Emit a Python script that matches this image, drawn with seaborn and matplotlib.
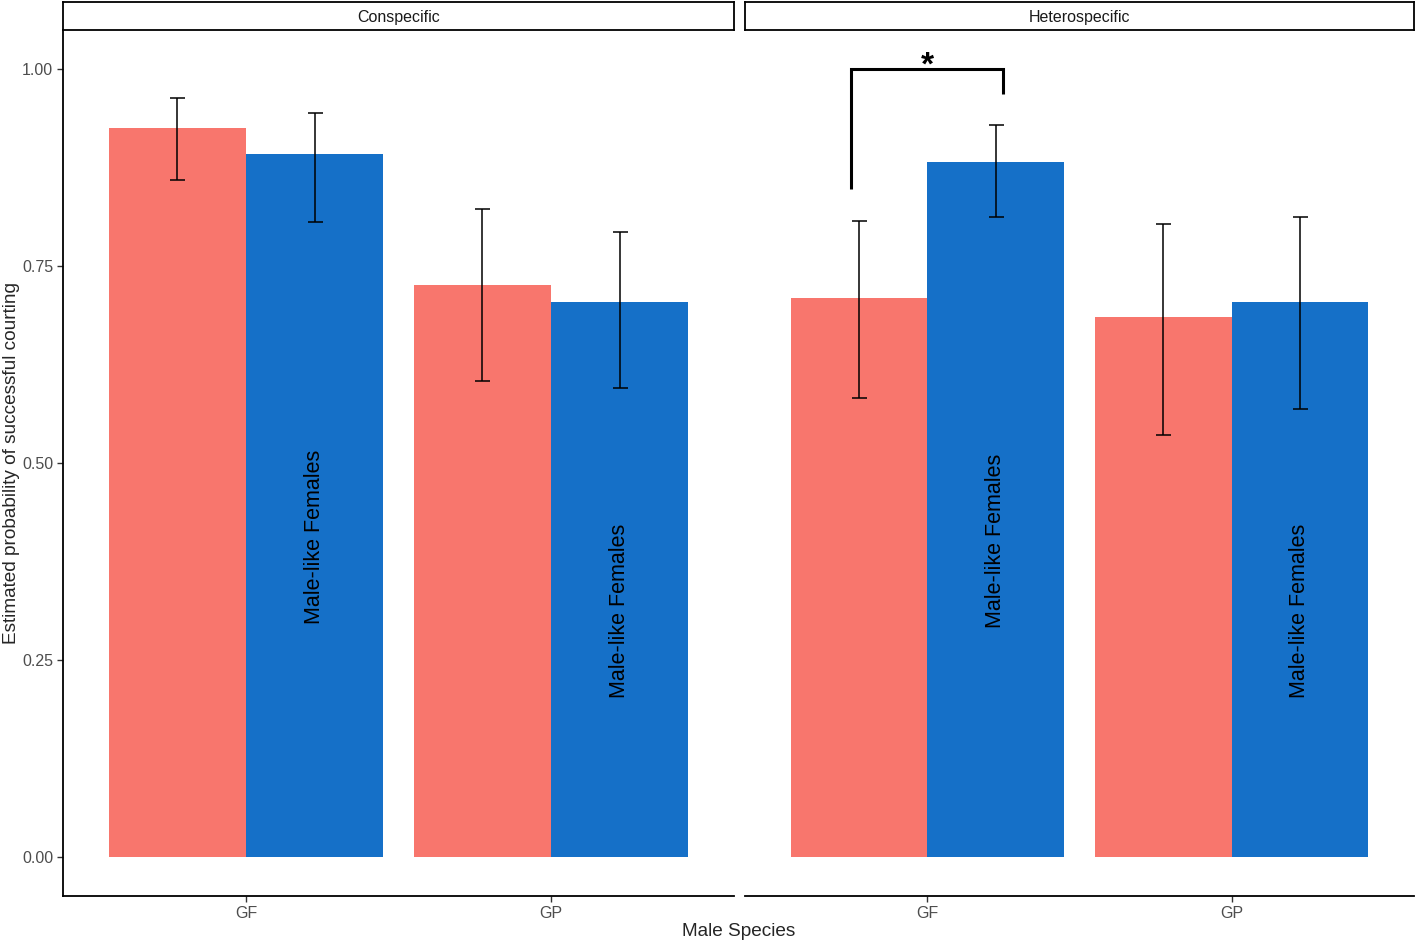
import numpy as np
import pandas as pd
import seaborn as sns
import matplotlib.pyplot as plt
from matplotlib.ticker import FormatStrFormatter

# values
species = ["GF", "GP"]
comparisons = ["Conspecific", "Heterospecific"]
female_types = ["Females", "Male-like Females"]

# estimated probability, lower and upper CI, per comparison -> female type -> species
con_fem = [0.926, 0.726]
con_fem_lo = [0.859, 0.604]
con_fem_hi = [0.964, 0.822]
con_ml = [0.892, 0.704]
con_ml_lo = [0.806, 0.595]
con_ml_hi = [0.944, 0.794]
het_fem = [0.709, 0.685]
het_fem_lo = [0.583, 0.535]
het_fem_hi = [0.808, 0.804]
het_ml = [0.882, 0.704]
het_ml_lo = [0.812, 0.568]
het_ml_hi = [0.929, 0.812]

rows = []
for comp, fem, ml in [("Conspecific", (con_fem, con_fem_lo, con_fem_hi), (con_ml, con_ml_lo, con_ml_hi)),
                      ("Heterospecific", (het_fem, het_fem_lo, het_fem_hi), (het_ml, het_ml_lo, het_ml_hi))]:
    for ftype, vals in zip(female_types, [fem, ml]):
        for i, sp in enumerate(species):
            rows.append({"Comparison": comp, "Female": ftype, "Species": sp,
                         "prob": vals[0][i], "lo": vals[1][i], "hi": vals[2][i]})
df = pd.DataFrame(rows)

sns.set_style("white")
plt.rcParams['font.family'] = ['Liberation Sans', 'DejaVu Sans']

palette = {"Females": "#F8766D", "Male-like Females": "#1570C8"}

fig = plt.figure(figsize=(14.18, 9.44), dpi=100)
W, H = 1418, 944
panel_x = [(63, 734), (745, 1414)]
top, bottom = 30, 896

axes = []
for k, comp in enumerate(comparisons):
    x0, x1 = panel_x[k]
    ax = fig.add_axes([x0 / W, (H - bottom) / H, (x1 - x0) / W, (bottom - top) / H],
                      sharey=axes[0] if axes else None)
    sub = df[df["Comparison"] == comp]
    sns.barplot(data=sub, x="Species", y="prob", hue="Female", order=species,
                hue_order=female_types, palette=palette, width=0.9, saturation=1,
                linewidth=0, errorbar=None, legend=False, ax=ax)

    # error bars and labels, positioned from the drawn bars
    centers = {}
    for ftype, cont in zip(female_types, ax.containers):
        for sp, bar in zip(species, cont):
            cx = bar.get_x() + bar.get_width() / 2
            r = sub[(sub["Female"] == ftype) & (sub["Species"] == sp)].iloc[0]
            centers[(ftype, sp)] = (cx, r)
            ax.errorbar(cx, r["prob"], yerr=[[r["prob"] - r["lo"]], [r["hi"] - r["prob"]]],
                        fmt='none', ecolor='black', elinewidth=1.1, capsize=5.4, capthick=1.1)
            if ftype == "Male-like Females":
                ax.text(cx, r["prob"] / 2 - 0.04, "Male-like Females", rotation=90,
                        ha='center', va='center', fontsize=15.5, color='black')

    ax.set_xlim(-0.6, 1.6)
    ax.set_ylim(-0.05, 1.05)
    ax.set_yticks([0, 0.25, 0.5, 0.75, 1.0])
    ax.yaxis.set_major_formatter(FormatStrFormatter('%.2f'))
    ax.set_xlabel("")
    ax.set_ylabel("")
    for s in ["top", "right"]:
        ax.spines[s].set_visible(False)
    ax.spines["bottom"].set_color("black")
    ax.spines["bottom"].set_linewidth(1.3)
    ax.tick_params(axis='x', length=4, width=1, color='#333333', labelsize=11.5,
                   labelcolor='#4D4D4D', pad=3, bottom=True)
    if k == 0:
        ax.spines["left"].set_color("black")
        ax.spines["left"].set_linewidth(1.3)
        ax.tick_params(axis='y', length=4, width=1, color='#333333', labelsize=11.5,
                       labelcolor='#4D4D4D', pad=3, left=True)
    else:
        ax.spines["left"].set_visible(False)
        ax.tick_params(axis='y', left=False, labelleft=False)

    # significance bracket for heterospecific GF
    if comp == "Heterospecific":
        lx, lr = centers[("Females", "GF")]
        rx, rr = centers[("Male-like Females", "GF")]
        xs = [lx - 0.025, lx - 0.025, rx + 0.025, rx + 0.025]
        ys = [lr["hi"] + 0.04, 1.0, 1.0, rr["hi"] + 0.04]
        ax.plot(xs, ys, color='black', lw=2.2, solid_capstyle='butt', solid_joinstyle='miter')
        ax.text((xs[0] + xs[-1]) / 2, 0.984, "*", ha='center', va='bottom', fontsize=24,
                fontweight='bold', color='black')

    # facet strip
    sax = fig.add_axes([x0 / W, (H - 30) / H, (x1 - x0) / W, 28 / H])
    sax.set_xticks([])
    sax.set_yticks([])
    for s in sax.spines.values():
        s.set_visible(True)
        s.set_color("black")
        s.set_linewidth(1.3)
    sax.text(0.5, 0.44, comp, ha='center', va='center', fontsize=11.5, color='#1A1A1A',
             transform=sax.transAxes)
    axes.append(ax)

fig.text(739 / W, (H - 931) / H, "Male Species", ha='center', va='center', fontsize=13.7)
fig.text(12 / W, (H - 463) / H, "Estimated probability of successful courting", rotation=90,
         ha='center', va='center', fontsize=13.7)

fig.savefig("out.png", dpi=100)
